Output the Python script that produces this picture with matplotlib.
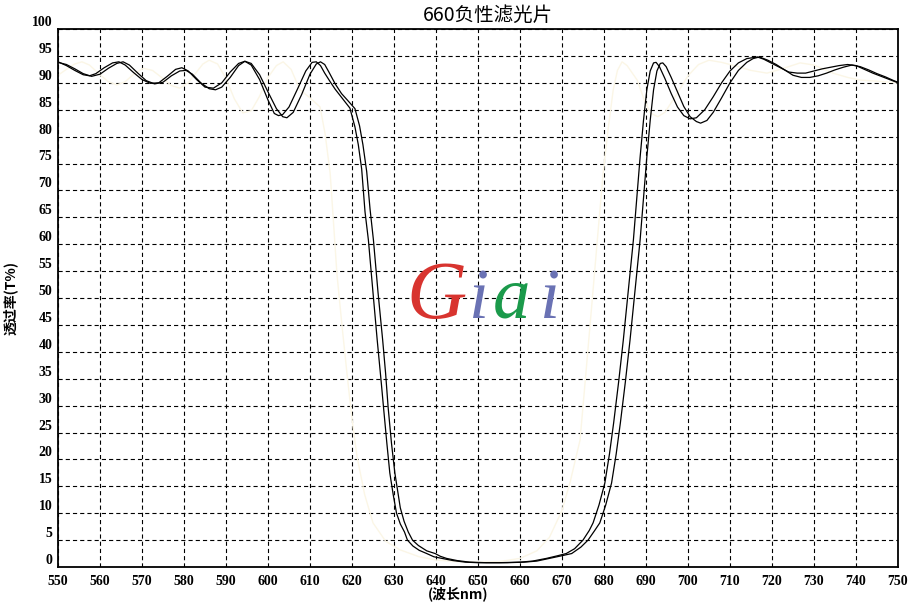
import matplotlib
matplotlib.use('Agg')
import matplotlib.pyplot as plt
import numpy as np

plt.rcParams['lines.scale_dashes'] = False

# curve A (left one on the edges)
wl_a = [550, 552, 554, 556, 557.5, 559, 561, 563, 564.5, 566, 568, 570, 572, 574, 576, 578, 579.5, 581, 583, 585,
        587, 589, 591, 593, 594.5, 596, 598, 600, 601.5, 602.5, 603.5, 605, 607, 609, 610.5, 611.5, 612.5, 613.5,
        614.8, 616, 618, 619.5, 620.7, 621.5, 622.3, 623.1, 623.9, 625, 626, 627, 627.5, 628.3, 629, 629.8, 630.6,
        631.5, 632.5, 633.2, 634.5, 636, 637.8, 639.5, 641.4, 644, 647, 650, 655, 660, 663, 666.3, 669, 671, 673,
        675, 676.5, 677.4, 678.8, 680.2, 681.3, 682.3, 683.5, 684.6, 685.8, 687, 687.8, 688.6, 689.4, 690.2, 691,
        691.8, 692.4, 693.2, 694.5, 696, 697.5, 699, 700.5, 702, 704, 706, 708, 710, 712, 714, 716.5, 718, 720, 722,
        724, 726, 728, 730, 732, 734, 736, 738, 740, 742, 744, 746, 748, 750]
t_a = [93.9, 93.2, 92.3, 91.5, 91.3, 91.7, 92.8, 93.7, 93.9, 93.3, 91.9, 90.6, 89.9, 90.0, 91.2, 92.5, 92.8, 92.2, 90.6, 89.2,
       89.0, 90.0, 92.0, 93.6, 94.0, 93.3, 90.6, 86.8, 84.3, 83.9, 84.1, 85.5, 88.8, 92.2, 93.8, 93.9, 93.2, 91.8,
       90.2, 88.8, 86.8, 85.3, 81.8, 78.5, 74.0, 66.0, 60.8, 51.0, 42.2, 34.0, 29.7, 23.0, 17.5, 13.5, 10.0,
       8.0, 6.5, 5.0, 3.9, 3.1, 2.5, 1.9, 1.6, 1.2, 0.9, 0.8, 0.8, 0.9, 1.1, 1.6, 2.1, 2.5, 3.4,
       5.0, 6.8, 8.2, 11.5, 15.6, 21.0, 26.8, 34.5, 42.2, 51.5, 60.8, 68.5, 76.2, 83.0, 88.7, 92.2,
       93.7, 93.8, 93.0, 90.8, 88.0, 85.5, 83.9, 83.3, 83.5, 85.0, 87.4, 90.0, 92.2, 93.7, 94.5, 94.8, 94.4, 93.6, 92.8,
       92.0, 91.8, 91.8, 92.2, 92.6, 92.9, 93.2, 93.4, 93.2, 92.5, 91.8, 91.2, 90.6, 90.0]

# curve B (right one on the edges)
wl_b = [550, 552, 554, 556, 558, 560, 562, 564, 565.5, 567, 569, 571, 573, 575, 577, 579, 580.5, 582, 584, 586,
        587.5, 589, 591, 593, 594.5, 596, 598, 600, 602, 603.5, 604.5, 606, 608, 610, 611.5, 612.5, 613.5, 614.5,
        616, 617.5, 619, 620.7, 621.8, 622.6, 623.5, 624.3, 625.1, 626.2, 627.3, 628, 628.6, 629.4, 630.2, 631,
        631.5, 632.4, 633.4, 634.4, 635.8, 637.8, 639.8, 641, 642.5, 645, 648, 652, 657, 661, 664, 667, 670, 672.3,
        674.5, 676.2, 677.8, 679, 680.4, 681.8, 682.9, 683.9, 685.1, 686.2, 687.4, 688.6, 689.4, 690.2, 691, 691.8,
        692.6, 693.4, 694, 694.8, 696, 697.5, 699, 700.5, 702, 703, 704.5, 706, 708, 710, 712, 714, 715.5, 717, 719,
        721, 723, 725, 727, 729, 731, 733, 735, 737, 739, 741, 743, 745, 747, 749, 750]
t_b = [93.8, 93.4, 92.6, 91.7, 91.2, 91.6, 92.7, 93.6, 93.9, 93.3, 91.8, 90.4, 89.8, 90.1, 91.3, 92.2, 92.3, 91.6, 90.0, 88.9,
       88.7, 89.2, 91.0, 93.2, 94.0, 93.6, 91.5, 88.3, 85.2, 83.7, 83.5, 84.5, 87.8, 91.6, 93.5, 93.9, 93.4, 92.0,
       89.8, 88.0, 86.7, 85.2, 82.0, 78.5, 73.5, 66.5, 60.8, 51.0, 42.2, 36.0, 29.7, 23.0, 17.5, 13.5,
       11.0, 8.5, 6.5, 5.0, 4.0, 3.0, 2.5, 2.0, 1.6, 1.2, 0.9, 0.8, 0.8, 0.9, 1.1, 1.6, 2.1, 2.5,
       3.7, 5.0, 6.8, 8.2, 11.5, 15.6, 21.0, 26.8, 34.5, 42.2, 51.5, 60.8, 68.5, 76.2, 83.0, 88.7,
       92.2, 93.6, 93.7, 93.0, 91.0, 88.3, 85.6, 83.7, 82.8, 82.5, 83.0, 84.5, 87.2, 90.0, 92.3, 93.8, 94.5, 94.8, 94.2,
       93.4, 92.4, 91.4, 91.0, 91.0, 91.3, 91.8, 92.4, 92.9, 93.3, 93.0, 92.4, 91.7, 91.1, 90.4, 90.1]

# faint third curve
wl_c = [550, 552, 554, 555.7, 557.5, 560, 562, 564, 566, 568, 570.3, 572.5, 575, 577, 579, 581, 583, 584.5, 586, 588,
        590, 592, 594, 596, 598, 600, 602, 603.6, 605.5, 607.6, 610, 612.4, 613.6, 614.8, 615.6, 616.4, 617.6, 618.8,
        620, 621.2, 623, 625, 628, 631.4, 636, 640, 645, 650, 655, 660, 664, 667, 670, 672, 674.3, 675.8, 677.4,
        678.6, 679.8, 681, 682.2, 683.2, 684.3, 685.5, 687.9, 689.5, 691, 692.8, 694.5, 697, 700, 702.5, 705, 708,
        712, 715, 718.8, 722, 726.7, 730, 734.5, 738, 741, 745, 750]
t_c = [91.4, 92.5, 93.5, 93.9, 93.3, 91.5, 90.2, 89.6, 90.2, 91.6, 92.7, 92.3, 90.8, 89.5, 89.0, 90.0, 92.0, 93.5, 94.2, 93.5,
       90.8, 87.0, 84.4, 84.8, 87.5, 91.0, 93.2, 93.9, 92.5, 88.7, 87.2, 85.5, 80.5, 73.2, 64.0, 54.6, 45.0, 36.0,
       27.5, 20.5, 13.5, 8.2, 4.8, 3.2, 1.9, 1.3, 1.0, 0.9, 1.0, 1.6, 3.0, 5.5, 10.5, 16.0, 23.6, 37.0, 51.5,
       62.5, 73.2, 81.5, 88.7, 92.3, 93.9, 93.2, 90.5, 87.0, 84.4, 83.7, 84.5, 87.5, 91.3, 93.4, 94.2, 93.8,
       93.0, 92.3, 91.8, 92.5, 93.7, 93.3, 91.8, 91.0, 90.5, 90.3, 90.0]

x_ticks = list(range(550, 751, 10))
y_ticks = list(range(0, 101, 5))

fig = plt.figure(figsize=(9.09, 6.04), dpi=100)
ax = fig.add_axes([58 / 909, 37 / 604, 840 / 909, 538 / 604])

ax.plot(wl_c, t_c, color='#fbf6e6', lw=1.0, zorder=2)
ax.plot(wl_a, t_a, color='black', lw=0.9, zorder=3)
ax.plot(wl_b, t_b, color='black', lw=0.9, zorder=3)

ax.set_xlim(550, 750)
ax.set_ylim(0, 100)
ax.set_xticks(x_ticks)
ax.set_yticks(y_ticks)
ax.set_xticklabels([str(v) for v in x_ticks])
ax.set_yticklabels([str(v) for v in y_ticks])
ax.tick_params(length=0, pad=4)
ax.tick_params(axis='x', pad=6)
for lbl in ax.get_xticklabels() + ax.get_yticklabels():
    lbl.set_fontfamily('Liberation Serif')
    lbl.set_fontweight('bold')
    lbl.set_fontsize(10)
for lbl in ax.get_yticklabels():
    lbl.set_va('bottom')

ax.grid(True, color='black', lw=0.8, linestyle=(0, (3.0, 2.2)))
for s in ax.spines.values():
    s.set_linewidth(1.3)
    s.set_color('black')

# title and axis labels
fig.text(488 / 909, 1 - 15 / 604, '660负性滤光片', ha='center', va='center',
         family=['Noto Sans CJK SC', 'DejaVu Sans'], fontsize=14)
fig.text(10 / 909, 1 - 298 / 604, '透过率(T%)', rotation=90, ha='center', va='center',
         family=['Noto Sans CJK SC', 'DejaVu Sans'], fontsize=10, fontweight='bold')
fig.text(458 / 909, 1 - 594 / 604, '(波长nm)', ha='center', va='center',
         family=['Noto Sans CJK SC', 'DejaVu Sans'], fontsize=10, fontweight='bold')

# logo
logo = [('G', 437, '#d8342f', 60), ('i', 479, '#6a72b4', 52), ('a', 512, '#1b9a4b', 54), ('i', 550, '#6a72b4', 52)]
for ch, px, col, fs in logo:
    fig.text(px / 909, 1 - 318 / 604, ch, ha='center', va='baseline', color=col,
             family='Liberation Serif', style='italic', fontsize=fs, zorder=5)

fig.savefig('out.png', dpi=100)
